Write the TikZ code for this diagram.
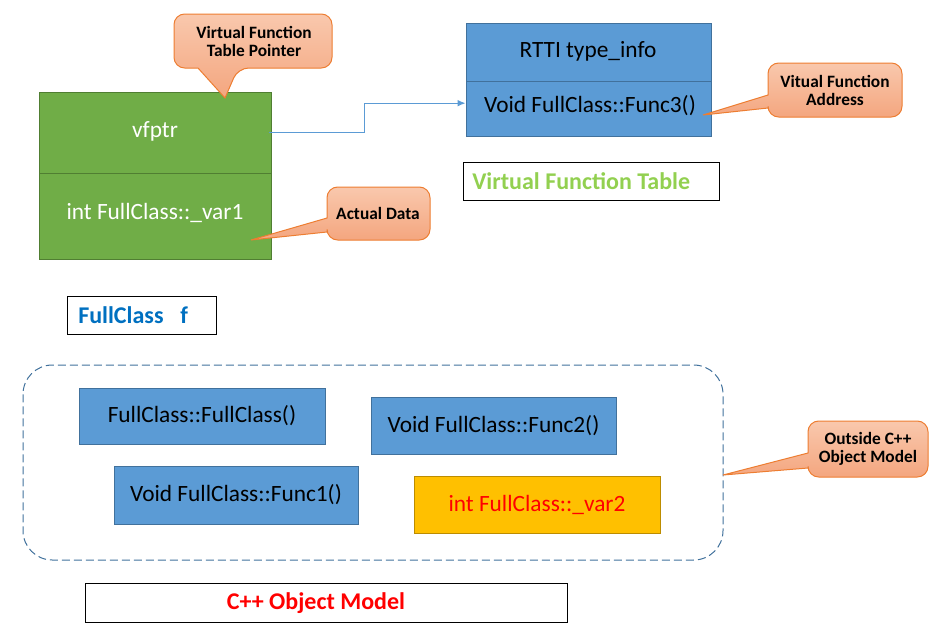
\documentclass[tikz,border=0pt]{standalone}
\usepackage{fontspec}
\setmainfont{Carlito}
\usetikzlibrary{arrows.meta,fit}
\definecolor{gfill}{HTML}{70AD47}
\definecolor{gline}{HTML}{507E32}
\definecolor{bfill}{HTML}{5B9BD5}
\definecolor{bline}{HTML}{41719C}
\definecolor{yfill}{HTML}{FFC000}
\definecolor{yline}{HTML}{BC8C00}
\definecolor{ctop}{HTML}{F9C8AD}
\definecolor{cbot}{HTML}{F4A67F}
\definecolor{cline}{HTML}{ED7D31}
\definecolor{vgreen}{HTML}{92D050}
\definecolor{fblue}{HTML}{0070C0}
\begin{document}
\begin{tikzpicture}[x=0.75pt,y=-0.75pt,
  box/.style={draw, line width=0.75pt, inner sep=0pt},
  greenbox/.style={box, fill=gfill, draw=gline},
  bluebox/.style={box, fill=bfill, draw=bline},
  yellowbox/.style={box, fill=yfill, draw=yline},
  boxtext/.style={font=\fontsize{17.5}{20}\selectfont, inner sep=0pt},
  titlebox/.style={draw=black, line width=0.75pt, inner sep=0pt},
  titletext/.style={font=\bfseries\fontsize{18}{20}\selectfont, inner sep=0pt},
  callout/.style={draw=cline, line width=0.75pt, top color=ctop, bottom color=cbot},
  callouttext/.style={font=\bfseries\fontsize{13}{13.5}\selectfont, align=center, text=black},
  conn/.style={draw=bfill, line width=0.75pt, -{Latex[length=6pt,width=5pt]}}
]
\useasboundingbox (0,0) rectangle (948,643);

% Green object
\node[greenbox, fit={(39,92)(271,173)}] (gtop) {};
\node[boxtext, text=white] (vfptr) at (155,131) {vfptr};
\node[greenbox, fit={(39,173)(271,259)}] (gbot) {};
\node[boxtext, text=white] (var1) at (155,213) {int FullClass::\_var1};

% Blue table
\node[bluebox, fit={(466,23)(711,81)}] (rtti) {};
\node[boxtext] (rttitext) at (588,51) {RTTI type\_info};
\node[bluebox, fit={(466,81)(711,136)}] (f3) {};
\node[boxtext] (f3text) at (590,106) {Void FullClass::Func3()};

% connector
\coordinate (bend) at (364,0);
\draw[conn] ([xshift=-2pt]gtop.east) -- (gtop.east -| bend) |- ([yshift=4pt]f3.west);

% title boxes
\node[titlebox, fit={(463,162)(719,200)}] (vftbox) {};
\node[titletext, anchor=west, text=vgreen] (vfttext) at (472,181) {Virtual Function Table};
\node[titlebox, fit={(67,296)(216,334)}] (fcbox) {};
\node[titletext, anchor=west, text=fblue] (fctext) at (78,315) {FullClass\hspace{0.7em}f};
\node[titlebox, fit={(85,583)(567,622)}] (cppbox) {};
\node[titletext, text=red] (cpptext) at (316,603) {C++ Object Model};

% dashed region
\draw[draw=bline, line width=0.75pt, dash pattern=on 6pt off 3pt, rounded corners=22pt] (23,365) rectangle (723,560);
\coordinate (dashright) at (723,475);

% inner boxes
\node[bluebox, fit={(79,388)(325,444)}] (ctor) {};
\node[boxtext] (ctortext) at (202,416) {FullClass::FullClass()};
\node[bluebox, fit={(371,397)(616,454)}] (f2) {};
\node[boxtext] (f2text) at (493.5,425.5) {Void FullClass::Func2()};
\node[bluebox, fit={(114,466)(358,524)}] (f1) {};
\node[boxtext] (f1text) at (236,495) {Void FullClass::Func1()};
\node[yellowbox, fit={(414,476)(660,533)}] (var2) {};
\node[boxtext, text=red] (var2text) at (537,504.5) {int FullClass::\_var2};

% callouts
\path[callout] (174,41) [rounded corners=8pt] -- (174,14) -- (332,14) -- (332,68) -- (238,68) [sharp corners] -- (225,98) -- (198,68) [rounded corners=8pt] -- (174,68) -- cycle;
\node[callouttext] (c1) at (254,41) {Virtual Function\\Table Pointer};

\path[callout] (835,63) [rounded corners=8pt] -- (902,63) -- (902,117) -- (768,117) [sharp corners] -- (768,108) -- (703,115) -- (768,95) [rounded corners=8pt] -- (768,63) -- cycle;
\node[callouttext] (c2) at (835,90) {Vitual Function\\Address};

\path[callout] (378,187) [rounded corners=8pt] -- (430,187) -- (430,240) -- (327,240) [sharp corners] -- (327,232) -- (251,240) -- (327,218) [rounded corners=8pt] -- (327,187) -- cycle;
\node[callouttext] (c3) at (378,213) {Actual Data};

\path[callout] (868,421) [rounded corners=8pt] -- (928,421) -- (928,477) -- (808,477) [sharp corners] -- (808,468) -- (dashright) -- (808,453) [rounded corners=8pt] -- (808,421) -- cycle;
\node[callouttext] (c4) at (868,449) {Outside C++\\Object Model};
\end{tikzpicture}
\end{document}
